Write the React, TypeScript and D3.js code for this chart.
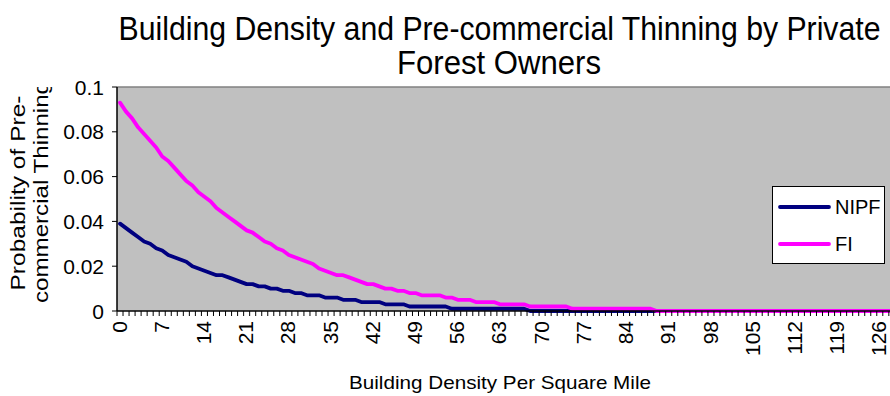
import React from "react";
import * as d3 from "d3";

// Building density per square mile (category axis)
const densities: number[] = d3.range(0, 131);

// Probability of pre-commercial thinning, non-industrial private forest owners
const nipf: number[] = [
  0.039, 0.037, 0.035, 0.033, 0.031, 0.030, 0.028, 0.027, 0.025, 0.024,
  0.023, 0.022, 0.020, 0.019, 0.018, 0.017, 0.016, 0.016, 0.015, 0.014,
  0.013, 0.012, 0.012, 0.011, 0.011, 0.010, 0.010, 0.009, 0.009, 0.008,
  0.008, 0.007, 0.007, 0.007, 0.006, 0.006, 0.006, 0.005, 0.005, 0.005,
  0.004, 0.004, 0.004, 0.004, 0.003, 0.003, 0.003, 0.003, 0.002, 0.002,
  0.002, 0.002, 0.002, 0.002, 0.002, 0.001, 0.001, 0.001, 0.001, 0.001,
  0.001, 0.001, 0.001, 0.001, 0.001, 0.001, 0.001, 0.001, 0, 0,
  0, 0, 0, 0, 0, 0, 0, 0, 0, 0,
  0, 0, 0, 0, 0, 0, 0, 0, 0, 0,
  0, 0, 0, 0, 0, 0, 0, 0, 0, 0,
  0, 0, 0, 0, 0, 0, 0, 0, 0, 0,
  0, 0, 0, 0, 0, 0, 0, 0, 0, 0,
  0, 0, 0, 0, 0, 0, 0, 0, 0, 0,
  0,
];

// Probability of pre-commercial thinning, forest industry owners
const fi: number[] = [
  0.093, 0.089, 0.086, 0.082, 0.079, 0.076, 0.073, 0.069, 0.067, 0.064,
  0.061, 0.058, 0.056, 0.053, 0.051, 0.049, 0.046, 0.044, 0.042, 0.040,
  0.038, 0.036, 0.035, 0.033, 0.031, 0.030, 0.028, 0.027, 0.025, 0.024,
  0.023, 0.022, 0.021, 0.019, 0.018, 0.017, 0.016, 0.016, 0.015, 0.014,
  0.013, 0.012, 0.012, 0.011, 0.010, 0.010, 0.009, 0.009, 0.008, 0.008,
  0.007, 0.007, 0.007, 0.007, 0.006, 0.006, 0.005, 0.005, 0.005, 0.004,
  0.004, 0.004, 0.004, 0.003, 0.003, 0.003, 0.003, 0.003, 0.002, 0.002,
  0.002, 0.002, 0.002, 0.002, 0.002, 0.001, 0.001, 0.001, 0.001, 0.001,
  0.001, 0.001, 0.001, 0.001, 0.001, 0.001, 0.001, 0.001, 0.001, 0,
  0, 0, 0, 0, 0, 0, 0, 0, 0, 0,
  0, 0, 0, 0, 0, 0, 0, 0, 0, 0,
  0, 0, 0, 0, 0, 0, 0, 0, 0, 0,
  0, 0, 0, 0, 0, 0, 0, 0, 0, 0,
  0,
];

const xTickLabels: number[] = [0, 7, 14, 21, 28, 35, 42, 49, 56, 63, 70, 77, 84, 91, 98, 105, 112, 119, 126];
const yTicks: number[] = [0, 0.02, 0.04, 0.06, 0.08, 0.1];
const yTickLabels: string[] = ["0", "0.02", "0.04", "0.06", "0.08", "0.1"];

const seriesNames = ["NIPF", "FI"];
const seriesColors = ["#000080", "#FF00FF"];

const W = 890;
const H = 396;
const FONT = "'Liberation Sans', Arial, sans-serif";

const plot = { left: 117, top: 87, bottom: 311, step: 6.03 };

export default function App() {
  const x = d3
    .scaleBand<number>()
    .domain(densities)
    .range([plot.left, plot.left + plot.step * densities.length])
    .padding(0);
  const bw = x.bandwidth();
  const y = d3.scaleLinear().domain([0, 0.1]).range([plot.bottom, plot.top]);

  const line = d3
    .line<number>()
    .x((_, i) => (x(densities[i]) as number) + bw / 2)
    .y((v) => y(v));

  const series = [nipf, fi];
  const plotRight = plot.left + plot.step * densities.length;

  return (
    <svg width={W} height={H} style={{ display: "block", position: "absolute", left: 0, top: 0 }} fontFamily={FONT}>
      <defs>
        <clipPath id="ytitle-clip">
          <rect x={0} y={plot.top} width={plot.left} height={H - plot.top} />
        </clipPath>
      </defs>
      <rect x={0} y={0} width={W} height={H} fill="#ffffff" />

      {/* Title: tall, slightly condensed lettering */}
      <g transform="translate(499.5,40) scale(1,1.1)">
        <text x={0} y={0} textAnchor="middle" fontSize={30} fill="#000" textLength={762} lengthAdjust="spacingAndGlyphs">
          Building Density and Pre-commercial Thinning by Private
        </text>
      </g>
      <g transform="translate(499,74) scale(1,1.1)">
        <text x={0} y={0} textAnchor="middle" fontSize={30} fill="#000" textLength={204} lengthAdjust="spacingAndGlyphs">
          Forest Owners
        </text>
      </g>

      {/* Plot area */}
      <rect x={plot.left} y={plot.top} width={plotRight - plot.left} height={plot.bottom - plot.top} fill="#C0C0C0" />
      <line x1={plot.left} x2={plotRight} y1={plot.top} y2={plot.top} stroke="#808080" strokeWidth={1.5} />

      {/* Series */}
      {series.map((s, k) => (
        <path
          key={seriesNames[k]}
          d={line(s) || ""}
          fill="none"
          stroke={seriesColors[k]}
          strokeWidth={3.8}
          strokeLinejoin="round"
          strokeLinecap="round"
        />
      ))}

      {/* Y axis */}
      <line x1={plot.left} x2={plot.left} y1={plot.top} y2={plot.bottom} stroke="#000" strokeWidth={1.5} />
      {yTicks.map((t, i) => (
        <g key={t}>
          <line x1={plot.left - 5} x2={plot.left} y1={y(t)} y2={y(t)} stroke="#000" strokeWidth={1} />
          <text x={plot.left - 13} y={y(t)} dy="0.36em" textAnchor="end" fontSize={21} fill="#000">
            {yTickLabels[i]}
          </text>
        </g>
      ))}

      {/* X axis */}
      <line x1={plot.left} x2={plotRight} y1={plot.bottom} y2={plot.bottom} stroke="#000" strokeWidth={1.5} />
      {densities.map((d) => (
        <line
          key={d}
          x1={(x(d) as number) + bw}
          x2={(x(d) as number) + bw}
          y1={plot.bottom}
          y2={plot.bottom + 5}
          stroke="#000"
          strokeWidth={1}
        />
      ))}
      <line x1={plot.left} x2={plot.left} y1={plot.bottom} y2={plot.bottom + 5} stroke="#000" strokeWidth={1} />
      {xTickLabels.map((d) => {
        const cx = (x(d) as number) + bw / 2;
        return (
          <text
            key={d}
            transform={`translate(${cx - 1},${plot.bottom + 10}) rotate(-90)`}
            dy="0.36em"
            textAnchor="end"
            fontSize={21}
            fill="#000"
          >
            {d}
          </text>
        );
      })}

      {/* Axis titles */}
      <g clipPath="url(#ytitle-clip)">
        <text transform={`translate(25,193) rotate(-90)`} textAnchor="middle" fontSize={21} fill="#000" textLength={195} lengthAdjust="spacingAndGlyphs">
          Probability of Pre-
        </text>
        <text transform={`translate(48,192) rotate(-90)`} textAnchor="middle" fontSize={21} fill="#000" textLength={222} lengthAdjust="spacingAndGlyphs">
          commercial Thinning
        </text>
      </g>
      <text x={500} y={389} textAnchor="middle" fontSize={19} fill="#000" textLength={302} lengthAdjust="spacingAndGlyphs">
        Building Density Per Square Mile
      </text>

      {/* Legend */}
      <rect x={772.5} y={186.5} width={112} height={77} fill="#fff" stroke="#000" strokeWidth={1} />
      {seriesNames.map((n, i) => {
        const ly = 207 + i * 37;
        return (
          <g key={n}>
            <line x1={780} x2={829} y1={ly} y2={ly} stroke={seriesColors[i]} strokeWidth={3.8} strokeLinecap="round" />
            <text x={835} y={ly} dy="0.36em" fontSize={20} fill="#000">
              {n}
            </text>
          </g>
        );
      })}
    </svg>
  );
}
